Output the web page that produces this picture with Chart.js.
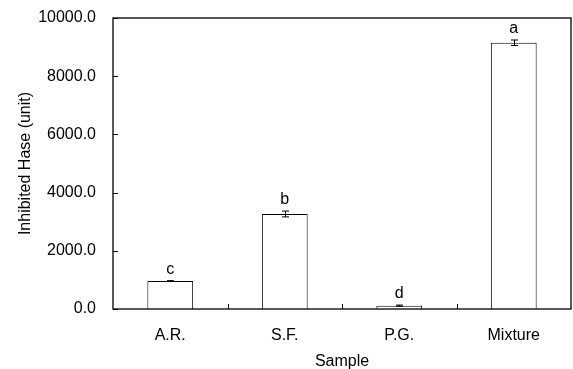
<!DOCTYPE html>
<html>
<head>
<meta charset="utf-8">
<script src="https://cdn.jsdelivr.net/npm/chart.js@4"></script>
<style>
  html, body { margin: 0; padding: 0; background: #fff; }
  #wrap { width: 573px; height: 369px; }
</style>
</head>
<body>
<div id="wrap"><canvas id="chart" width="573" height="369"></canvas></div>
<script>
// Data
const categories = ['A.R.', 'S.F.', 'P.G.', 'Mixture'];
const values = [960, 3265, 115, 9150];
const errors = [15, 100, 20, 95];
const letters = ['c', 'b', 'd', 'a'];
const yTicks = [0, 2000, 4000, 6000, 8000, 10000];

const FONT = "'Liberation Sans', Arial, sans-serif";
const SIZE = 16;

// Frame, inward ticks, error bars and significance letters
const extras = {
  id: 'extras',
  afterDatasetsDraw(chart) {
    const { ctx, chartArea: a, scales: { x, y } } = chart;
    ctx.save();
    ctx.strokeStyle = '#000';
    ctx.lineWidth = 1.3;
    ctx.strokeRect(a.left, a.top, a.right - a.left, a.bottom - a.top);

    // y ticks pointing in
    ctx.lineWidth = 1;
    yTicks.forEach(v => {
      const py = Math.round(y.getPixelForValue(v)) + 0.5;
      ctx.beginPath();
      ctx.moveTo(a.left, py);
      ctx.lineTo(a.left + 5, py);
      ctx.stroke();
    });
    // x ticks between categories
    const step = (a.right - a.left) / categories.length;
    for (let i = 1; i < categories.length; i++) {
      const px = Math.round(a.left + step * i) + 0.5;
      ctx.beginPath();
      ctx.moveTo(px, a.bottom);
      ctx.lineTo(px, a.bottom - 5);
      ctx.stroke();
    }

    // error bars
    values.forEach((v, i) => {
      const px = Math.round(x.getPixelForValue(i)) + 0.5;
      const hi = y.getPixelForValue(v + errors[i]);
      const lo = y.getPixelForValue(v - errors[i]);
      ctx.beginPath();
      ctx.moveTo(px, hi); ctx.lineTo(px, lo);
      ctx.moveTo(px - 3.5, hi); ctx.lineTo(px + 3.5, hi);
      ctx.moveTo(px - 3.5, lo); ctx.lineTo(px + 3.5, lo);
      ctx.stroke();
    });

    // letters
    ctx.fillStyle = '#000';
    ctx.font = SIZE + 'px ' + FONT;
    ctx.textAlign = 'center';
    ctx.textBaseline = 'bottom';
    values.forEach((v, i) => {
      ctx.fillText(letters[i], x.getPixelForValue(i), y.getPixelForValue(v + errors[i]) - 3);
    });
    ctx.restore();
  }
};

new Chart(document.getElementById('chart'), {
  type: 'bar',
  data: {
    labels: categories,
    datasets: [{
      data: values,
      backgroundColor: '#fff',
      borderColor: '#000',
      borderWidth: 1,
      barPercentage: 0.4,
      categoryPercentage: 1.0
    }]
  },
  options: {
    responsive: false,
    animation: false,
    layout: { padding: { top: 18, right: 2, left: 0, bottom: 0 } },
    plugins: { legend: { display: false }, tooltip: { enabled: false } },
    scales: {
      x: {
        grid: { display: false, drawTicks: false },
        border: { display: false },
        ticks: { color: '#000', font: { family: FONT, size: SIZE }, padding: 17 },
        title: { display: true, text: 'Sample', color: '#000', font: { family: FONT, size: SIZE }, padding: { top: 0, bottom: -2 } },
        afterFit(s) { s.height = 60; s.paddingLeft = 0; s.paddingRight = 0; }
      },
      y: {
        min: 0,
        max: 10000,
        afterBuildTicks(s) { s.ticks = yTicks.map(v => ({ value: v })); },
        grid: { display: false, drawTicks: false },
        border: { display: false },
        ticks: {
          color: '#000',
          font: { family: FONT, size: SIZE },
          padding: 17,
          callback: v => Number(v).toFixed(1)
        },
        title: { display: true, text: 'Inhibited Hase (unit)', color: '#000', font: { family: FONT, size: SIZE }, padding: { top: 16, bottom: 0 } },
        afterFit(s) { s.width = 113; s.paddingTop = 0; s.paddingBottom = 0; }
      }
    }
  },
  plugins: [extras]
});
</script>
</body>
</html>
